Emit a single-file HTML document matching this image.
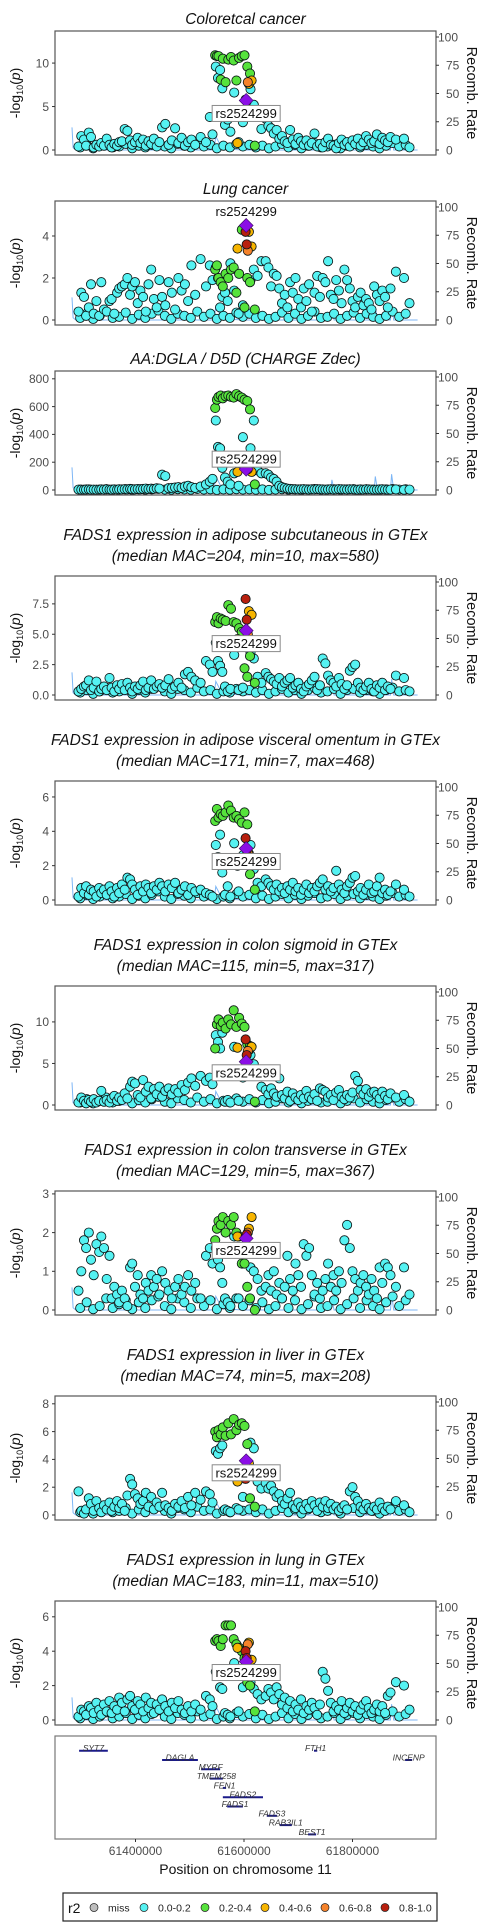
<!DOCTYPE html>
<html><head><meta charset="utf-8"><style>
html,body{margin:0;padding:0;background:#fff}
svg{display:block;font-family:"Liberation Sans",Arial,sans-serif}
</style></head><body>
<svg id="fig" width="500" height="1928" viewBox="0 0 500 1928" xmlns="http://www.w3.org/2000/svg"></svg>
<script>
// ---------- shared SNP data (kb positions on chr11, thousands) ----------
const posD=[61298,61310,61322,61334,61346,61358,61370,61382,61394,61406,61418,61430,61442,61454,61466,61478,61490,61502,61514,61526,61538,61550,61562,61574,61586,61598,61610,61622,61634,61646,61658,61670,61682,61694,61706,61718,61730,61742,61754,61766,61778,61790,61802,61814,61826,61838,61850,61862,61874,61886,61898];
const posB1=[61295,61300,61305,61309,61314,61318,61323,61328,61333,61337,61342,61347,61352,61356,61361,61366,61370,61375,61380,61385,61390,61394,61399,61404,61409,61414,61419,61424,61429,61434,61439,61444,61449,61455,61461,61467,61473,61479,61485,61491,61497,61503,61510,61520,61530,61537,61542];
const posC=[61548,61552,61556,61560,61565,61570,61575,61582,61590,61598,61612,61618,61625,61632];
const posG=[61547,61550,61553,61557,61561,61566,61571,61576,61581,61586,61591,61596,61601,61606,61611,61620];
const posY=[61609,61614,61588];
const posO=[61607];
const posR=[61603,61605];
const posL=[61604];
const posB2=[61640,61645,61650,61655,61660,61665,61670,61675,61680,61685,61690,61695,61700,61705,61710,61715,61720,61725,61730,61735,61740,61745,61750,61755,61760,61765,61770,61775,61780,61785,61790,61795,61800,61805,61810,61815,61820,61825,61830,61835,61840,61845,61850,61855,61860,61865,61870,61880,61895,61905];
// recombination rate
const recPos=[61283,61285,61290,61300,61540,61545,61548,61560,61600,61640,61700,61760,61762,61766,61800,61840,61842,61846,61870,61872,61876,61900,61910,61920];
const recRate=[20,2,0,0,0,1,12,1,0,0,0,0,9,0,0,0,12,0,0,14,0,0,0,0];
// x ticks
const xTicks=[61400,61600,61800];
const xTickLabels=["61400000","61600000","61800000"];
const rTicks=[0,25,50,75,100];

// ---------- per-panel -log10(p) values (order: D,B1,C,G,Y,O,R,L,B2) ----------
const p1D=[0.3,0.6,0.2,0.5,0.8,0.3,0.4,0.7,0.2,0.5,0.3,0.6,0.9,0.4,0.2,0.7,0.5,0.3,0.8,0.4,0.6,0.2,0.5,0.3,0.7,0.4,0.6,0.3,0.5,0.2,0.4,0.7,0.3,0.6,0.2,0.5,0.8,0.3,0.4,0.6,0.2,0.5,0.7,0.3,0.6,0.4,0.2,0.5,0.8,0.4,0.6];
const p1B1=[0.4,1.6,1.2,0.5,2.0,1.5,0.3,0.6,0.4,0.8,0.5,1.3,0.6,0.3,0.7,0.5,0.9,1.0,2.4,2.2,1.1,0.6,0.9,1.4,0.8,1.2,0.5,1.0,0.7,1.3,0.4,0.9,2.6,3.0,0.6,1.1,2.5,0.8,1.4,0.5,0.9,1.2,0.6,1.5,0.9,3.8,1.8];
const p1C=[9.6,8.3,9.2,7.1,2.9,3.5,2.1,6.6,0.9,3.2,7.0,5.2,4.2,2.4];
const p1G=[10.9,10.8,10.8,8.1,10.5,7.8,10.4,10.7,10.3,8.0,10.6,10.8,10.9,9.6,8.8,0.5];
const p1Y=[7.6,8.0,0.8], p1O=[7.8], p1R=[5.8,5.6], p1L=[5.7];
const p1B2=[3.6,2.8,2.5,1.9,2.3,1.3,1.6,1.0,0.8,2.3,1.2,0.7,1.4,1.0,0.6,1.1,0.5,0.8,1.9,0.4,0.7,0.3,0.9,1.3,0.6,0.5,0.2,0.8,1.2,0.6,0.9,0.4,1.1,0.7,1.3,0.5,0.9,1.6,1.2,0.8,1.0,1.8,0.7,1.4,1.1,0.9,1.5,1.2,1.3,0.3];

const p2D=[0.1,0.3,0.05,0.2,0.4,0.1,0.15,0.35,0.05,0.25,0.1,0.3,0.45,0.2,0.05,0.3,0.2,0.1,0.4,0.15,0.3,0.05,0.2,0.1,0.35,0.15,0.3,0.1,0.2,0.05,0.15,0.35,0.1,0.3,0.05,0.2,0.4,0.1,0.15,0.3,0.05,0.2,0.35,0.1,0.3,0.15,0.05,0.2,0.4,0.15,0.3];
const p2B1=[0.4,1.3,1.1,0.2,0.6,1.7,0.3,0.9,0.2,1.8,0.5,0.4,0.9,1.0,0.3,1.3,1.5,1.6,1.7,2.0,1.2,1.6,1.8,0.8,1.4,1.1,0.4,1.7,2.4,1.0,0.6,1.9,1.1,0.7,1.8,1.3,0.5,2.0,1.4,1.7,0.9,2.6,1.2,2.9,1.6,2.6,1.9];
const p2C=[2.5,2.0,0.6,1.1,1.3,0.9,2.7,1.4,0.3,0.7,1.9,2.4,2.1,2.8];
const p2G=[2.4,2.6,2.0,1.8,1.6,2.2,2.0,2.4,2.5,1.3,2.2,4.3,0.6,2.0,1.8,0.5];
const p2Y=[4.2,3.5,3.4], p2O=[3.3], p2R=[4.2,3.6], p2L=[4.5];
const p2B2=[2.8,2.5,1.6,2.2,2.1,1.5,0.8,1.2,0.6,1.8,1.3,2.0,1.0,0.6,1.5,0.9,1.7,0.4,1.3,2.1,1.1,2.0,1.8,2.8,1.2,1.0,1.9,1.4,0.8,2.4,1.9,1.5,0.9,0.6,1.1,1.3,0.7,1.0,0.8,0.5,1.6,1.2,0.9,1.4,1.1,0.6,1.5,2.3,2.0,0.8];

const p3D=[2,4,1,3,6,2,3,5,1,4,2,5,8,3,2,6,4,2,7,3,5,1,4,2,6,3,5,2,4,1,3,6,2,5,1,4,7,2,3,5,1,4,6,2,5,3,1,4,7,3,5];
const p3B1=[3,2,2,3,4,2,3,2,3,4,3,5,3,2,4,3,5,4,6,5,8,6,5,7,6,8,10,7,9,8,12,10,110,100,13,15,18,20,15,25,30,20,15,25,40,60,80];
const p3C=[500,310,300,160,90,60,40,120,30,380,300,500,140,120];
const p3G=[590,650,670,680,660,675,680,670,665,690,675,665,650,640,580,40];
const p3Y=[150,130,130], p3O=[150], p3R=[160,150], p3L=[150];
const p3B2=[120,110,90,80,60,30,20,15,10,8,6,5,4,5,6,4,3,5,4,6,5,4,3,4,5,3,4,6,5,4,3,5,4,3,2,4,3,5,4,3,2,3,4,5,3,2,3,4,2,3];

const p4D=[0.2,0.4,0.1,0.3,0.6,0.2,0.3,0.5,0.1,0.4,0.2,0.5,0.7,0.3,0.1,0.5,0.4,0.2,0.6,0.3,0.4,0.1,0.3,0.2,0.5,0.3,0.4,0.2,0.4,0.1,0.3,0.5,0.2,0.4,0.1,0.4,0.6,0.2,0.3,0.5,0.1,0.4,0.5,0.2,0.4,0.3,0.1,0.4,0.6,0.3,0.4];
const p4B1=[0.3,0.5,0.7,0.8,1.2,0.4,0.6,1.1,0.3,0.5,0.7,0.4,1.4,0.6,0.3,0.8,0.5,0.9,0.4,1.0,0.6,0.3,0.7,0.5,0.8,1.1,0.4,0.6,1.2,0.5,0.7,0.9,0.6,0.8,1.3,0.5,0.7,1.0,0.6,1.7,1.9,1.5,1.2,1.0,2.8,2.5,1.9];
const p4C=[4.3,2.8,2.4,1.9,0.7,0.3,0.5,3.3,0.4,0.6,3.5,3.0,1.5,1.0];
const p4G=[6.0,6.4,5.9,6.3,6.2,6.1,7.4,7.1,6.0,5.9,5.5,5.2,2.2,1.5,3.2,1.0];
const p4Y=[6.9,6.6,4.6], p4O=[5.0], p4R=[7.9,6.2], p4L=[5.3];
const p4B2=[1.8,1.5,1.3,1.1,0.9,1.4,0.7,1.0,1.2,1.4,0.6,0.8,1.0,0.5,0.3,0.7,0.9,1.2,1.5,0.4,0.8,3.0,2.6,1.6,1.2,1.0,0.7,1.4,0.9,0.5,0.8,2.0,2.3,2.5,1.0,0.6,0.4,0.7,1.0,0.5,0.3,0.8,0.6,1.0,0.4,0.7,0.5,1.6,1.4,0.3];

const p5D=[0.1,0.3,0.05,0.2,0.4,0.1,0.2,0.35,0.05,0.25,0.1,0.3,0.5,0.2,0.05,0.35,0.25,0.1,0.4,0.2,0.3,0.05,0.2,0.1,0.35,0.2,0.3,0.1,0.25,0.05,0.2,0.35,0.1,0.3,0.05,0.25,0.4,0.1,0.2,0.35,0.05,0.25,0.35,0.1,0.3,0.2,0.05,0.25,0.4,0.2,0.3];
const p5B1=[0.2,0.7,0.4,0.8,0.3,0.6,0.5,0.2,0.7,0.4,0.6,0.3,0.8,0.5,0.2,0.7,0.4,0.9,0.6,1.3,1.2,0.9,0.6,0.3,0.8,0.5,0.9,0.7,0.4,0.8,0.6,1.0,0.8,0.5,0.9,0.7,1.0,0.4,0.6,0.8,0.3,0.7,0.5,0.6,0.4,0.3,0.2];
const p5C=[3.2,2.5,3.8,1.6,0.3,0.8,0.2,3.3,0.5,2.6,3.2,1.8,1.0,0.8];
const p5G=[4.6,5.3,4.8,5.0,4.9,5.1,5.5,5.2,4.8,4.9,4.7,4.5,5.1,4.4,1.5,0.6];
const p5Y=[2.7,2.4,2.0], p5O=[2.8], p5R=[3.6,2.9], p5L=[3.0];
const p5B2=[1.2,1.0,0.8,0.6,0.9,0.5,0.7,0.4,0.8,0.6,1.0,0.5,0.7,0.3,0.6,0.9,0.4,0.7,0.5,0.8,1.0,1.2,0.6,0.8,0.5,0.7,1.7,0.9,0.6,0.4,0.8,1.0,1.3,1.4,0.5,0.7,0.3,0.6,0.9,0.4,0.5,0.8,1.3,0.4,0.6,0.3,0.5,0.9,0.6,0.2];

const p6D=[0.3,0.7,0.2,0.5,0.9,0.3,0.5,0.8,0.2,0.6,0.3,0.7,1.0,0.4,0.2,0.8,0.6,0.3,0.9,0.4,0.7,0.2,0.5,0.3,0.8,0.4,0.7,0.3,0.6,0.2,0.4,0.8,0.3,0.7,0.2,0.5,0.9,0.3,0.4,0.7,0.2,0.5,0.8,0.3,0.7,0.4,0.2,0.6,0.9,0.4,0.7];
const p6B1=[0.3,0.9,0.5,0.2,0.6,0.4,0.7,0.3,0.5,1.7,0.4,0.6,0.3,0.8,1.1,0.5,0.9,0.6,1.4,0.8,2.2,2.8,2.6,1.2,0.9,3.0,1.6,2.2,0.8,1.9,1.3,2.2,1.0,1.7,2.0,1.3,1.9,1.5,2.4,1.8,2.7,3.2,2.3,3.5,2.9,3.3,2.5];
const p6C=[8.4,7.6,6.8,8.7,0.4,0.6,0.3,7.0,0.5,3.3,6.0,4.9,3.5,2.2];
const p6G=[6.8,9.7,10.3,9.5,9.9,9.2,10.3,9.7,11.4,9.4,10.5,9.8,9.4,7.3,7.1,0.4];
const p6Y=[6.6,7.0,6.9], p6O=[6.5], p6R=[7.9,6.0], p6L=[5.2];
const p6B2=[1.8,1.3,2.0,1.4,1.0,3.2,1.2,0.8,1.6,0.5,1.4,0.9,0.6,1.2,0.8,1.7,1.0,0.7,1.3,0.5,2.0,1.8,1.6,0.9,1.2,0.6,1.5,1.8,1.0,0.7,1.2,0.9,1.5,3.5,2.9,1.8,1.3,1.9,1.0,1.5,1.6,1.2,0.8,1.6,1.1,0.7,1.4,0.9,1.2,0.4];

const p7D=[0.05,0.2,0.02,0.1,0.3,0.05,0.15,0.25,0.02,0.2,0.05,0.25,0.35,0.1,0.02,0.3,0.2,0.05,0.3,0.1,0.25,0.02,0.15,0.05,0.3,0.1,0.25,0.05,0.2,0.02,0.1,0.3,0.05,0.25,0.02,0.15,0.35,0.05,0.1,0.25,0.02,0.15,0.3,0.05,0.25,0.1,0.02,0.2,0.35,0.1,0.25];
const p7B1=[0.5,1.0,1.8,1.6,2.0,1.3,0.9,1.7,1.5,1.9,1.6,0.8,1.4,0.3,0.6,0.4,0.2,0.5,0.3,0.1,1.1,1.2,0.6,0.9,0.4,0.3,0.7,0.5,0.9,0.6,0.8,0.4,1.0,0.7,0.5,0.3,0.6,0.8,0.4,0.6,0.9,0.5,0.7,0.3,1.4,1.6,1.2];
const p7C=[1.6,1.3,1.1,0.7,0.3,0.2,0.1,1.9,0.3,1.2,1.1,1.0,0.8,0.5];
const p7G=[1.8,2.1,2.3,2.2,2.4,2.0,2.3,2.2,2.4,2.0,1.9,1.2,1.2,0.6,0.3,0.0];
const p7Y=[2.1,2.4,1.9], p7O=[2.0], p7R=[1.9,1.95], p7L=[1.85];
const p7B2=[0.6,0.9,0.5,1.0,0.4,0.7,0.3,0.6,1.4,0.8,0.5,1.2,0.9,0.6,1.7,1.4,1.6,0.9,0.4,0.7,0.3,0.5,0.8,1.2,0.6,0.9,0.5,1.0,0.7,1.8,2.2,1.6,1.0,0.8,0.5,0.7,0.9,0.6,0.4,0.8,0.5,0.3,1.1,0.7,1.2,1.1,0.9,0.6,1.1,0.4];

const p8D=[0.2,0.4,0.1,0.3,0.6,0.2,0.3,0.5,0.1,0.4,0.2,0.5,0.7,0.3,0.1,0.5,0.4,0.2,0.6,0.3,0.4,0.1,0.3,0.2,0.5,0.3,0.4,0.2,0.4,0.1,0.3,0.5,0.2,0.4,0.1,0.4,0.6,0.2,0.3,0.5,0.1,0.4,0.5,0.2,0.4,0.3,0.1,0.4,0.6,0.3,0.4];
const p8B1=[1.7,0.3,0.1,0.4,1.2,0.8,0.3,1.0,0.5,0.2,0.7,0.4,0.9,0.3,0.6,1.0,0.5,0.8,0.3,1.4,2.6,2.2,1.5,1.2,0.8,1.0,1.6,0.6,1.3,0.4,0.9,0.6,1.6,0.7,0.5,0.3,0.8,0.6,1.0,0.5,1.3,0.7,1.6,1.1,1.7,1.5,0.9];
const p8C=[4.6,4.4,4.8,5.0,0.4,0.3,0.2,2.8,0.4,1.3,5.2,4.8,2.4,1.9];
const p8G=[6.0,5.6,6.1,5.8,6.3,5.7,6.6,5.8,6.9,6.1,6.5,6.6,6.4,5.1,1.2,0.6];
const p8Y=[3.7,3.3,2.4], p8O=[3.1], p8R=[2.6,3.4], p8L=[3.9];
const p8B2=[2.3,1.9,2.1,1.7,1.3,1.5,1.0,0.8,1.2,1.6,0.7,0.5,0.9,0.6,0.4,0.8,0.5,1.0,0.7,0.3,0.9,0.6,1.0,0.5,0.8,0.4,0.6,0.3,0.5,0.7,0.4,1.7,2.0,1.3,1.0,0.6,0.4,0.8,0.5,0.3,0.6,0.4,0.9,0.5,0.3,0.6,0.4,1.0,0.7,0.2];

const p9D=[0.1,0.3,0.05,0.2,0.45,0.1,0.2,0.4,0.05,0.3,0.1,0.35,0.55,0.2,0.05,0.4,0.3,0.1,0.5,0.2,0.35,0.05,0.2,0.1,0.4,0.2,0.35,0.1,0.3,0.05,0.2,0.4,0.1,0.35,0.05,0.3,0.5,0.1,0.2,0.4,0.05,0.3,0.4,0.1,0.35,0.2,0.05,0.3,0.5,0.2,0.35];
const p9B1=[0.2,0.6,0.5,0.3,0.8,0.7,0.4,1.0,0.6,0.3,0.9,0.5,1.1,0.4,0.8,0.6,1.3,1.0,0.5,1.2,1.4,0.8,0.6,1.1,0.9,0.5,1.3,0.7,1.0,0.4,0.9,0.6,1.2,0.8,0.5,1.0,0.7,1.1,0.6,0.4,0.8,0.5,0.9,0.6,1.4,1.2,0.8];
const p9C=[2.8,2.6,1.9,1.8,0.4,0.3,0.2,3.3,0.5,1.9,2.2,1.8,1.5,1.2];
const p9G=[4.6,4.7,4.6,4.3,4.7,5.5,5.5,5.5,4.7,4.4,4.2,4.0,3.6,2.2,2.0,0.5];
const p9Y=[4.5,3.5,4.2], p9O=[4.4], p9R=[4.0,3.6], p9L=[3.4];
const p9B2=[1.4,1.8,1.6,1.2,1.9,1.5,0.9,1.3,0.7,1.1,0.5,0.9,0.6,1.2,0.4,0.8,0.6,1.0,0.7,0.3,0.9,2.8,2.4,1.7,1.0,0.5,0.8,0.6,1.1,0.4,0.7,1.0,0.5,0.8,0.3,0.6,0.9,1.1,0.7,0.4,0.6,0.9,0.5,0.8,0.4,1.4,1.6,2.2,2.0,0.6];

// ---------- panel axis definitions ----------
const titles=[["Coloretcal cancer"],["Lung cancer"],["AA:DGLA / D5D (CHARGE Zdec)"],
["FADS1 expression in adipose subcutaneous in GTEx","(median MAC=204, min=10, max=580)"],
["FADS1 expression in adipose visceral omentum in GTEx","(median MAC=171, min=7, max=468)"],
["FADS1 expression in colon sigmoid in GTEx","(median MAC=115, min=5, max=317)"],
["FADS1 expression in colon transverse in GTEx","(median MAC=129, min=5, max=367)"],
["FADS1 expression in liver in GTEx","(median MAC=74, min=5, max=208)"],
["FADS1 expression in lung in GTEx","(median MAC=183, min=11, max=510)"]];
const yMax=[13.0,5.38,813,9.3,6.58,13.6,2.92,8.13,6.57];
const yTicks=[[0,5,10],[0,2,4],[0,200,400,600,800],[0,2.5,5,7.5],[0,2,4,6],[0,5,10],[0,1,2,3],[0,2,4,6,8],[0,2,4,6]];
const yTickLabels=[["0","5","10"],["0","2","4"],["0","200","400","600","800"],["0.0","2.5","5.0","7.5"],["0","2","4","6"],["0","5","10"],["0","1","2","3"],["0","2","4","6","8"],["0","2","4","6"]];
const values=[
[p1D,p1B1,p1C,p1G,p1Y,p1O,p1R,p1L,p1B2],[p2D,p2B1,p2C,p2G,p2Y,p2O,p2R,p2L,p2B2],[p3D,p3B1,p3C,p3G,p3Y,p3O,p3R,p3L,p3B2],
[p4D,p4B1,p4C,p4G,p4Y,p4O,p4R,p4L,p4B2],[p5D,p5B1,p5C,p5G,p5Y,p5O,p5R,p5L,p5B2],[p6D,p6B1,p6C,p6G,p6Y,p6O,p6R,p6L,p6B2],
[p7D,p7B1,p7C,p7G,p7Y,p7O,p7R,p7L,p7B2],[p8D,p8B1,p8C,p8G,p8Y,p8O,p8R,p8L,p8B2],[p9D,p9B1,p9C,p9G,p9Y,p9O,p9R,p9L,p9B2]];
// genes
const geneNames=["SYT7","DAGLA","MYRF","TMEM258","FEN1","FADS2","FADS1","FADS3","RAB3IL1","BEST1","FTH1","INCENP"];
const geneStart=[61296,61449,61521,61537,61561,61561,61569,61642,61666,61718,61729,61897];
const geneEnd=[61349,61515,61556,61561,61567,61635,61598,61661,61688,61733,61735,61910];
const geneRow=[0,1,2,3,4,5,6,7,8,9,0,1];
// legend
const legendLabels=["miss","0.0-0.2","0.2-0.4","0.4-0.6","0.6-0.8","0.8-1.0"];
const legendColors=["#BEBEBE","#55F2F2","#56E33C","#F7B500","#F5822A","#B8200F"];

// ---------- layout ----------
const NS="http://www.w3.org/2000/svg";
const svg=document.getElementById('fig');
const L=55,R=436;
const boxTops=[31,201,371,576,781,986,1191,1396,1601];
const BH=124, ZERO=119, TOPPAD=6;
const labelOff=[13,-14,-10,13,13,11,12,12,11];
const groupPos=[posD,posB1,posC,posG,posY,posO,posR,posL,posB2];
const groupCls=["c","c","c","g","y","o","r","lead","c"];
const clsFill={c:"#55F2F2",g:"#56E33C",y:"#F7B500",o:"#F5822A",r:"#B8200F",lead:"#8B0FE6"};
const clsRank={c:0,g:1,y:2,o:3,r:4,lead:5};
function xS(kb){return 244+(kb-61600)*108.5/200;}
function mk(tag,attrs,parent){const e=document.createElementNS(NS,tag);for(const k in attrs)e.setAttribute(k,attrs[k]);(parent||svg).appendChild(e);return e;}

for(let p=0;p<9;p++){
  const T=boxTops[p];
  const yS=v=>T+ZERO-v*(ZERO-TOPPAD)/yMax[p];
  const rS=v=>T+ZERO-v*(ZERO-TOPPAD)/100;
  const g=mk('g',{});
  
  
  const lines=titles[p];
  lines.forEach((t,i)=>{
    const cy = lines.length===1 ? T-12 : T-41+i*21;
    const tx=mk('text',{x:245.5,y:cy+5,'text-anchor':'middle','font-size':'15.5','font-style':'italic',fill:'#111'},g);
    tx.textContent=t;
    
    
  });
  let d='';
  recPos.forEach((kb,i)=>{d+=(i?'L':'M')+xS(kb).toFixed(1)+','+rS(recRate[i]).toFixed(1);});
  const rl=mk('path',{d:d,fill:'none',stroke:'#7DB6F5','stroke-width':'1'},g);
  
  
  const pts=[];
  values[p].forEach((arr,gi)=>{
    const pa=groupPos[gi];
    for(let i=0;i<Math.min(arr.length,pa.length);i++)pts.push({kb:pa[i],v:arr[i],c:groupCls[gi]});
  });
  pts.sort((a,b)=>clsRank[a.c]-clsRank[b.c]);
  let lead=null;
  pts.forEach(pt=>{
    const x=xS(pt.kb),y=yS(pt.v);
    if(pt.c==='lead'){
      lead={x,y};
      const dm=mk('path',{d:`M${x},${y-7}L${x+7},${y}L${x},${y+7}L${x-7},${y}Z`,fill:clsFill.lead,stroke:'#3a0a60','stroke-width':'0.6'},g);
      
      
    }else{
      const c=mk('circle',{cx:x.toFixed(1),cy:y.toFixed(1),r:'4.6',fill:clsFill[pt.c],stroke:'#0a1515','stroke-width':'0.85'},g);
      
      
    }
  });
  if(lead){
    const ly=lead.y+labelOff[p];
    if(p!==1){
      const rb=mk('rect',{x:lead.x-34,y:ly-8,width:68,height:16,fill:'#fff',stroke:'#8a8a8a','stroke-width':'1'},g);
      
      
    }
    const lt=mk('text',{x:lead.x,y:ly+4.5,'text-anchor':'middle','font-size':'13',fill:'#111'},g);
    lt.textContent='rs2524299';
    
    
  }
  const bx=mk('rect',{x:L,y:T,width:R-L,height:BH,fill:'none',stroke:'#555','stroke-width':'1.2'},g);
  
  
  yTicks[p].forEach((v,i)=>{
    const y=yS(v);
    mk('line',{x1:52,x2:55,y1:y,y2:y,stroke:'#333','stroke-width':'1'},g);
    const t=mk('text',{x:49,y:y+4.3,'text-anchor':'end','font-size':'12',fill:'#4d4d4d'},g);
    t.textContent=yTickLabels[p][i];
    
    
  });
  rTicks.forEach(v=>{
    const y=rS(v);
    mk('line',{x1:436,x2:439,y1:y,y2:y,stroke:'#333','stroke-width':'1'},g);
    const t=mk('text',{x:v===100?438:446,y:y+4.3,'font-size':'12',fill:'#4d4d4d'},g);
    t.textContent=String(v);
    
    
  });
  const cy=T+62;
  const yt=mk('text',{x:0,y:0,'text-anchor':'middle','font-size':'14',fill:'#111',transform:`translate(20,${cy}) rotate(-90)`},g);
  yt.innerHTML='-log<tspan font-size="9" dy="3">10</tspan><tspan dy="-3">(</tspan><tspan font-style="italic">p</tspan>)';
  
  
  const rt=mk('text',{x:0,y:0,'text-anchor':'middle','font-size':'14.5',fill:'#111',transform:`translate(467,${cy}) rotate(90)`},g);
  rt.textContent='Recomb. Rate';
  
  
}

// ---------- gene track ----------
const GT=1736;
const gg=mk('g',{});


geneNames.forEach((n,i)=>{
  const y=GT+14.7+geneRow[i]*9.3;
  const x1=xS(geneStart[i]),x2=xS(geneEnd[i]);
  const ln=mk('line',{x1:x1,x2:x2,y1:y,y2:y,stroke:'#1a1a8a','stroke-width':'2'},gg);
  
  
  const t=mk('text',{x:(x1+x2)/2,y:y+0.5,'text-anchor':'middle','font-size':'8.5','font-style':'italic',fill:'#333'},gg);
  t.textContent=n;
  
  
});
const gb=mk('rect',{x:L,y:GT,width:R-L,height:103,fill:'none',stroke:'#777','stroke-width':'1.2'},gg);


xTicks.forEach((kb,i)=>{
  const x=xS(kb);
  mk('line',{x1:x,x2:x,y1:1839,y2:1842,stroke:'#333','stroke-width':'1'},gg);
  const t=mk('text',{x:x,y:1855,'text-anchor':'middle','font-size':'12',fill:'#4d4d4d'},gg);
  t.textContent=xTickLabels[i];
  
  
});
const xt=mk('text',{x:245.5,y:1874,'text-anchor':'middle','font-size':'14',fill:'#111'},gg);
xt.textContent='Position on chromosome 11';



// ---------- legend ----------
const lg=mk('g',{});


mk('rect',{x:63,y:1893,width:374,height:28,fill:'#fff',stroke:'#222','stroke-width':'1.2'},lg);
const lt=mk('text',{x:68,y:1913,'font-size':'14',fill:'#111'},lg);
lt.textContent='r2';
const legX=[94,144,205,265,325,385];
legendLabels.forEach((s,i)=>{
  const c=mk('circle',{cx:legX[i],cy:1907.5,r:'4',fill:legendColors[i],stroke:'#222','stroke-width':'0.7'},lg);
  
  
  const t=mk('text',{x:legX[i]+14,y:1911.5,'font-size':'10.5',fill:'#222'},lg);
  t.textContent=s;
  
  
});
</script>
</body></html>
